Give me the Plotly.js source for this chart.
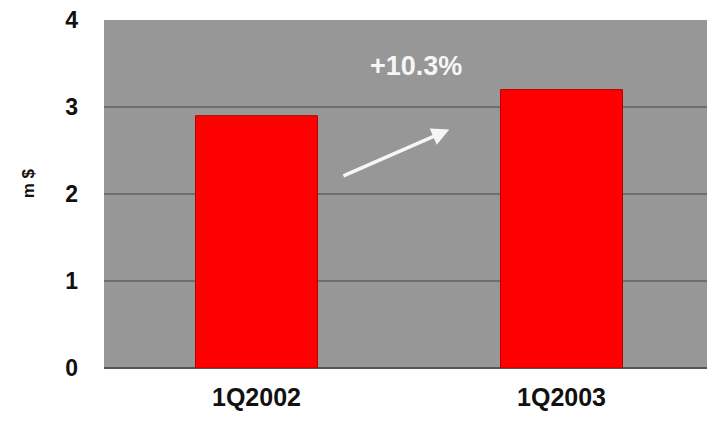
<!DOCTYPE html>
<html>
<head>
<meta charset="utf-8">
<script src="https://cdn.plot.ly/plotly-3.0.1.min.js"></script>
<style>
  html, body { margin: 0; padding: 0; background: #ffffff; }
  #chart { width: 707px; height: 424px; }
</style>
</head>
<body>
<div id="chart"></div>
<script>
// Quarterly revenue, millions of dollars
const quarters = ['1Q2002', '1Q2003'];
const revenue = [2.9, 3.2];
const yTicks = [0, 1, 2, 3, 4];

// Year-on-year growth shown above the bars
const growth = (revenue[1] / revenue[0] - 1) * 100;
const growthLabel = '+' + growth.toFixed(1) + '%';

const FONT = 'Liberation Sans, Arial, sans-serif';

const trace = {
  type: 'bar',
  x: quarters,
  y: revenue,
  width: 0.4,
  marker: { color: '#ff0000', line: { color: '#b80000', width: 1 } },
  hoverinfo: 'x+y'
};

const layout = {
  width: 707,
  height: 424,
  margin: { l: 104, r: 0, t: 20, b: 56 },
  paper_bgcolor: '#ffffff',
  plot_bgcolor: '#979797',
  showlegend: false,
  font: { family: FONT, color: '#111111' },
  xaxis: {
    type: 'category',
    range: [-0.5, 1.477],
    showgrid: false,
    zeroline: false,
    showline: false,
    ticks: '',
    ticklabelstandoff: 12,
    tickfont: { size: 25, family: FONT, weight: 'bold', color: '#111111' }
  },
  yaxis: {
    range: [0, 4],
    tickvals: yTicks,
    ticktext: yTicks.map(String),
    showgrid: true,
    gridcolor: '#6e6e6e',
    gridwidth: 2,
    zeroline: true,
    zerolinecolor: '#555555',
    zerolinewidth: 2,
    showline: false,
    ticks: '',
    ticklabelstandoff: 25,
    tickfont: { size: 23, family: FONT, weight: 'bold', color: '#111111' }
  },
  annotations: [
    {
      // unit label beside the value axis
      x: -0.144, y: 0.53, xref: 'paper', yref: 'paper',
      text: 'm $',
      textangle: -90,
      showarrow: false,
      font: { size: 17, family: FONT, weight: 'bold', color: '#111111' }
    },
    {
      x: 0.523, y: 3.47, xref: 'x', yref: 'y',
      text: growthLabel,
      showarrow: false,
      font: { size: 27, family: FONT, weight: 'bold', color: '#f6f6f6' }
    },
    {
      x: 0.632, y: 2.74, xref: 'x', yref: 'y',
      ax: 0.280, ay: 2.20, axref: 'x', ayref: 'y',
      text: '',
      showarrow: true,
      arrowhead: 2,
      arrowsize: 1,
      arrowwidth: 3.5,
      arrowcolor: '#f6f6f6'
    }
  ]
};

Plotly.newPlot('chart', [trace], layout, { displayModeBar: false, staticPlot: true });
</script>
</body>
</html>
